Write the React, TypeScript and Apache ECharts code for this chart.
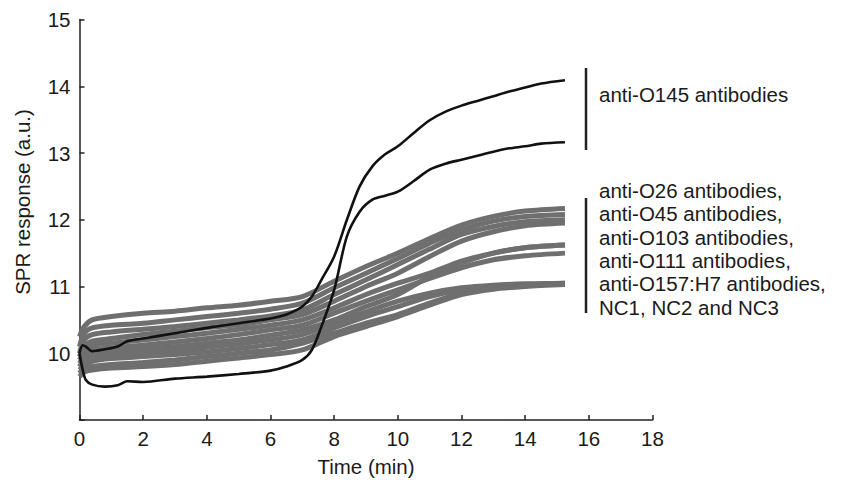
import React, { useEffect, useRef } from "react";
import * as echarts from "echarts";

// Time samples (min)
const blackTimes = [0, 0.1, 0.2, 0.4, 0.8, 1.2, 1.5, 2, 3, 4, 5, 6, 6.5, 7, 7.3, 7.6, 8, 8.4, 8.8, 9.2, 9.6, 10, 10.5, 11, 11.5, 12, 12.5, 13, 13.5, 14, 14.5, 15.25];
// anti-O145 antibodies (black)
const antiO145A = [10.0, 10.12, 10.1, 10.03, 10.06, 10.1, 10.18, 10.22, 10.3, 10.38, 10.45, 10.52, 10.58, 10.7, 10.85, 11.1, 11.45, 12.0, 12.5, 12.8, 12.98, 13.1, 13.3, 13.49, 13.62, 13.71, 13.78, 13.85, 13.92, 13.98, 14.04, 14.09];
const antiO145B = [10.0, 9.75, 9.6, 9.53, 9.5, 9.52, 9.58, 9.57, 9.62, 9.65, 9.69, 9.74, 9.8, 9.9, 10.05, 10.4, 10.95, 11.75, 12.12, 12.3, 12.36, 12.42, 12.58, 12.75, 12.84, 12.9, 12.96, 13.02, 13.07, 13.1, 13.14, 13.16];

const grayTimes = [0, 0.15, 0.4, 1, 2, 3, 4, 5, 6, 7, 8, 9, 10, 11, 12, 13, 14, 15.25];
// other antibodies and negative controls (gray)
const gray1 = [10.25, 10.4, 10.5, 10.55, 10.6, 10.63, 10.68, 10.72, 10.78, 10.85, 11.08, 11.3, 11.5, 11.72, 11.92, 12.05, 12.13, 12.17];
const gray2 = [10.1, 10.3, 10.38, 10.42, 10.45, 10.5, 10.55, 10.6, 10.66, 10.75, 10.98, 11.2, 11.42, 11.65, 11.85, 11.98, 12.05, 12.08];
const gray3 = [10.0, 10.2, 10.28, 10.32, 10.36, 10.4, 10.45, 10.5, 10.56, 10.65, 10.88, 11.1, 11.33, 11.56, 11.78, 11.9, 11.97, 12.0];
const gray4 = [9.95, 10.1, 10.18, 10.22, 10.28, 10.33, 10.38, 10.43, 10.5, 10.58, 10.78, 11.0, 11.2, 11.45, 11.68, 11.82, 11.91, 11.95];
const gray5 = [10.0, 10.05, 10.12, 10.15, 10.2, 10.25, 10.3, 10.36, 10.42, 10.5, 10.68, 10.88, 11.05, 11.2, 11.38, 11.5, 11.58, 11.62];
const gray6 = [9.9, 10.0, 10.05, 10.08, 10.12, 10.17, 10.22, 10.28, 10.35, 10.42, 10.6, 10.78, 10.95, 11.12, 11.28, 11.4, 11.46, 11.5];
const gray7 = [9.85, 9.95, 10.0, 10.03, 10.06, 10.1, 10.15, 10.2, 10.27, 10.35, 10.5, 10.7, 10.88, 11.15, 11.35, 11.5, 11.58, 11.62];
const gray8 = [9.8, 9.9, 9.95, 9.98, 10.0, 10.04, 10.09, 10.14, 10.2, 10.28, 10.45, 10.62, 10.78, 10.9, 10.98, 11.02, 11.04, 11.05];
const gray9 = [9.75, 9.82, 9.88, 9.92, 9.95, 9.98, 10.02, 10.07, 10.13, 10.2, 10.38, 10.55, 10.7, 10.85, 10.95, 11.0, 11.03, 11.05];
const gray10 = [9.7, 9.78, 9.8, 9.83, 9.86, 9.9, 9.95, 10.0, 10.05, 10.15, 10.3, 10.45, 10.58, 10.75, 10.9, 10.98, 11.02, 11.04];
const gray11 = [9.65, 9.72, 9.75, 9.78, 9.8, 9.83, 9.88, 9.93, 9.98, 10.05, 10.25, 10.4, 10.55, 10.72, 10.88, 10.96, 11.0, 11.03];
const graySeries = [gray1, gray2, gray3, gray4, gray5, gray6, gray7, gray8, gray9, gray10, gray11];
const blackSeries = [antiO145A, antiO145B];

const yTickLabels = ["", "10", "11", "12", "13", "14", "15"];
const xAxisName = "Time (min)";
const yAxisName = "SPR response (a.u.)";
const label145 = "anti-O145 antibodies";
const labelOthers = [
  "anti-O26 antibodies,",
  "anti-O45 antibodies,",
  "anti-O103 antibodies,",
  "anti-O111 antibodies,",
  "anti-O157:H7 antibodies,",
  "NC1, NC2 and NC3",
];

const FONT = "'Liberation Sans', Arial, Helvetica, sans-serif";
const TXT = "#1a1a1a";
const FS = 20.5;

export default function App() {
  const ref = useRef<HTMLDivElement>(null);
  useEffect(() => {
    document.body.style.margin = "0";
    if (!ref.current) return;
    const chart = echarts.init(ref.current, null, { renderer: "svg" });
    const pair = (ts: number[], vs: number[]) => ts.map((t, i) => [t, vs[i]]);
    const series: any[] = [];
    graySeries.forEach((vals, i) => {
      series.push({
        type: "line",
        name: "gray" + i,
        data: pair(grayTimes, vals),
        showSymbol: false,
        smooth: 0.3,
        lineStyle: { color: "#6f6f6f", width: 5 },
        z: 2,
      });
    });
    blackSeries.forEach((vals, i) => {
      series.push({
        type: "line",
        name: "black" + i,
        data: pair(blackTimes, vals),
        showSymbol: false,
        smooth: 0.3,
        lineStyle: { color: "#111111", width: 2.6 },
        z: 3,
      });
    });
    const graphic: any[] = [
      {
        type: "text",
        x: 22,
        y: 202,
        rotation: Math.PI / 2,
        style: { text: yAxisName, font: `${FS}px ${FONT}`, fill: TXT, align: "center", verticalAlign: "middle" },
      },
      { type: "line", shape: { x1: 586, y1: 68, x2: 586, y2: 150 }, style: { stroke: "#222", lineWidth: 2.5 } },
      { type: "line", shape: { x1: 586, y1: 198, x2: 586, y2: 313 }, style: { stroke: "#222", lineWidth: 2.5 } },
      {
        type: "text",
        x: 599,
        y: 94,
        style: { text: label145, font: `${FS}px ${FONT}`, fill: TXT, align: "left", verticalAlign: "middle" },
      },
    ];
    labelOthers.forEach((s, i) => {
      graphic.push({
        type: "text",
        x: 599,
        y: 190.5 + i * 23.35,
        style: { text: s, font: `${FS}px ${FONT}`, fill: TXT, align: "left", verticalAlign: "middle" },
      });
    });
    chart.setOption({
      animation: false,
      backgroundColor: "#ffffff",
      grid: { left: 79.5, right: 190.5, top: 19.5, bottom: 59.3 },
      xAxis: {
        type: "value",
        min: 0,
        max: 18,
        interval: 2,
        name: xAxisName,
        nameLocation: "middle",
        nameGap: 36,
        nameTextStyle: { fontSize: FS, fontFamily: FONT, color: TXT, verticalAlign: "top" },
        axisLine: { lineStyle: { color: "#222", width: 1.5 } },
        axisTick: { inside: true, length: 5, lineStyle: { color: "#222", width: 1.5 } },
        axisLabel: { fontSize: FS, fontFamily: FONT, color: TXT, margin: 8 },
        splitLine: { show: false },
      },
      yAxis: {
        type: "value",
        min: 9,
        max: 15,
        interval: 1,
        axisLine: { show: true, lineStyle: { color: "#222", width: 1.5 } },
        axisTick: { show: true, inside: true, length: 5, lineStyle: { color: "#222", width: 1.5 } },
        axisLabel: {
          fontSize: FS,
          fontFamily: FONT,
          color: TXT,
          margin: 9,
          formatter: (v: number) => yTickLabels[Math.round(v - 9)] ?? "",
        },
        splitLine: { show: false },
      },
      series,
      graphic,
    });
    return () => chart.dispose();
  }, []);
  return <div ref={ref} style={{ width: 843, height: 482 }} />;
}
